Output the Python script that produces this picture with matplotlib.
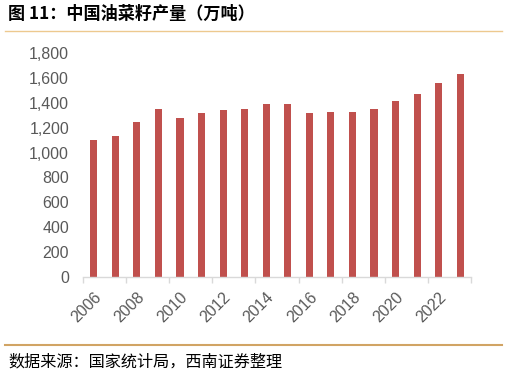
import matplotlib.pyplot as plt
from matplotlib.lines import Line2D
import numpy as np

plt.rcParams['font.family'] = ['Liberation Sans', 'Noto Sans CJK SC', 'DejaVu Sans']

years = [str(y) for y in range(2006, 2024)]
output = [1100, 1135, 1243, 1350, 1278, 1315, 1340, 1351, 1388,
          1388, 1315, 1326, 1326, 1350, 1412, 1471, 1557, 1629]
yticks = [0, 200, 400, 600, 800, 1000, 1200, 1400, 1600, 1800]

title = '图 11：中国油菜籽产量（万吨）'
source = '数据来源：国家统计局，西南证券整理'

fig = plt.figure(figsize=(5.07, 3.76), dpi=100)
ax = fig.add_axes([83 / 507, 1 - 277 / 376, 388 / 507, 224 / 376])

x = np.arange(len(years))
ax.bar(x, output, width=0.33, color='#C0504D')

ax.set_xlim(-0.5, len(years) - 0.5)
ax.set_ylim(0, 1800)
ax.set_yticks(yticks)
ax.set_yticklabels([f'{v:,}' for v in yticks])

ax.set_xticks(x[::2])
ax.set_xticklabels(years[::2], rotation=45, ha='right', rotation_mode='anchor')
ax.set_xticks(np.arange(-0.5, len(years), 2), minor=True)

ax.tick_params(axis='y', length=0, labelsize=11.5, labelcolor='#595959', pad=10)
ax.tick_params(axis='x', which='major', length=0, labelsize=11.5,
               labelcolor='#595959', pad=9)
ax.tick_params(axis='x', which='minor', length=4, width=1, color='#D9D9D9')

for s in ['left', 'right', 'top']:
    ax.spines[s].set_visible(False)
ax.spines['bottom'].set_color('#D9D9D9')
ax.spines['bottom'].set_linewidth(1)

fig.text(8 / 507, 1 - 14 / 376, title, fontsize=12.3, fontweight='bold',
         family=['Noto Sans CJK SC', 'DejaVu Sans'], va='center', ha='left')
fig.add_artist(Line2D([5 / 507, 502 / 507], [1 - 31 / 376] * 2,
                      color='#EDC98F', linewidth=1))
fig.add_artist(Line2D([5 / 507, 502 / 507], [1 - 345 / 376] * 2,
                      color='#D1A464', linewidth=1.5))
fig.text(8 / 507, 1 - 362 / 376, source, fontsize=11.6,
         family=['Noto Sans CJK SC', 'DejaVu Sans'], va='center', ha='left')

fig.savefig('out.png', dpi=100)
